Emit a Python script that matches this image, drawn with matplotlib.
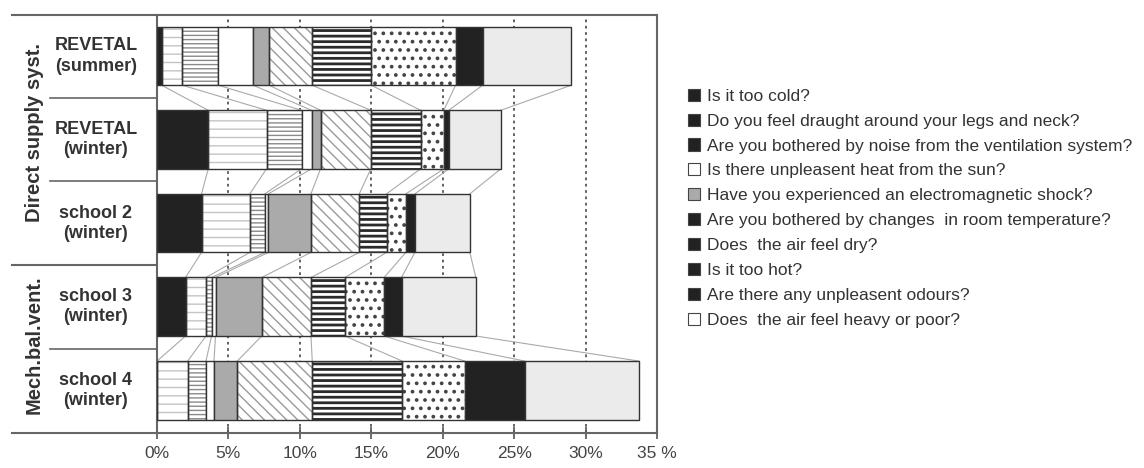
import matplotlib
matplotlib.use('Agg')
import matplotlib.pyplot as plt
from matplotlib.patches import Patch
import numpy as np

plt.rcParams['font.family'] = ['Liberation Sans', 'DejaVu Sans']
plt.rcParams['hatch.linewidth'] = 1.0

# locations (top to bottom)
locations = ["REVETAL\n(summer)", "REVETAL\n(winter)", "school 2\n(winter)",
             "school 3\n(winter)", "school 4\n(winter)"]
groups = ["Direct supply syst.", "Mech.bal.vent."]

questions = ["Is it too cold?",
             "Do you feel draught around your legs and neck?",
             "Are you bothered by noise from the ventilation system?",
             "Is there unpleasent heat from the sun?",
             "Have you experienced an electromagnetic shock?",
             "Are you bothered by changes  in room temperature?",
             "Does  the air feel dry?",
             "Is it too hot?",
             "Are there any unpleasent odours?",
             "Does  the air feel heavy or poor?"]

# % of answers per question, one value per location
too_cold = [0.33, 3.59, 3.12, 2.00, 0.00]
draught  = [1.44, 4.08, 3.38, 1.43, 2.15]
noise    = [2.52, 2.45, 1.05, 0.39, 1.28]
sun_heat = [2.44, 0.70, 0.25, 0.28, 0.56]
el_shock = [1.12, 0.63, 2.98, 3.23, 1.63]
temp_chg = [3.01, 3.52, 3.38, 3.45, 5.25]
dry_air  = [4.14, 3.48, 1.91, 2.38, 6.30]
too_hot  = [5.90, 1.63, 1.35, 2.74, 4.38]
odours   = [1.90, 0.35, 0.63, 1.22, 4.20]
heavy    = [6.20, 3.64, 3.85, 5.20, 8.00]

series = [too_cold, draught, noise, sun_heat, el_shock,
          temp_chg, dry_air, too_hot, odours, heavy]

# face colour, hatch, hatch colour, hatch width
styles = [("#222222", None, None, 0),
          ("white", "--", "#c4c4c4", 1.0),
          ("white", "----", "#8a8a8a", 1.0),
          ("white", None, None, 0),
          ("#aaaaaa", None, None, 0),
          ("white", "\\\\\\", "#9a9a9a", 1.0),
          ("white", "---", "#2a2a2a", 2.0),
          ("white", "..", "#444444", 1.5),
          ("#222222", None, None, 0),
          ("#ebebeb", None, None, 0)]
legend_face = ["#222222", "#222222", "#222222", "white", "#aaaaaa",
               "#222222", "#222222", "#222222", "#222222", "white"]

fig = plt.figure(figsize=(11.44, 4.68), dpi=100)
ax = fig.add_axes([0.1372, 0.0748, 0.4371, 0.8932])

y = np.arange(len(locations))
h = 0.70
left = np.zeros(len(locations))
cums = []
for vals, (fc, hatch, hc, hw) in zip(series, styles):
    vals = np.array(vals)
    if hatch:
        bars = ax.barh(y, vals, h, left=left, color=fc, hatch=hatch,
                       edgecolor=hc, linewidth=0, zorder=2)
        for b in bars:
            if hasattr(b, 'set_hatch_linewidth'):
                b.set_hatch_linewidth(hw)
        ax.barh(y, vals, h, left=left, fill=False, edgecolor="#333333",
                linewidth=1.0, zorder=3)
    else:
        ax.barh(y, vals, h, left=left, color=fc, edgecolor="#333333",
                linewidth=1.0, zorder=3)
    left = left + vals
    cums.append(left.copy())

# thin lines joining the segment borders of neighbouring bars
for c in cums:
    for i in range(len(locations) - 1):
        ax.plot([c[i], c[i + 1]], [i + h / 2, i + 1 - h / 2],
                color="#aaaaaa", lw=0.8, zorder=1)

ax.set_xlim(0, 35)
ax.set_ylim(4.51, -0.49)
ax.set_xticks(range(0, 36, 5))
ax.set_xticklabels(["0%", "5%", "10%", "15%", "20%", "25%", "30%", "35 %"])
ax.tick_params(axis='x', direction='inout', length=9, width=1.2,
               colors="#555555", labelcolor="#444444", labelsize=12.5, pad=5)
ax.set_yticks([])
for x in range(5, 35, 5):
    ax.axvline(x, color="#555555", ls=(0, (1.5, 2)), lw=1.3, zorder=0)
for s in ax.spines.values():
    s.set_color("#666666")
    s.set_linewidth(1.5)

# left label area
trans = ax.get_yaxis_transform()
for yy in [-0.49, 2.5, 4.51]:
    ax.plot([-0.29, 0], [yy, yy], transform=trans, color="#666666",
            lw=1.5, clip_on=False)
for yy in [0.5, 1.5, 3.5]:
    ax.plot([-0.214, 0], [yy, yy], transform=trans, color="#666666",
            lw=1.2, clip_on=False)
for i, lab in enumerate(locations):
    ax.text(-0.122, i, lab, transform=trans, ha='center', va='center',
            fontsize=13, fontweight='bold', color="#333333",
            linespacing=1.25)
ax.text(-0.245, 0.92, groups[0], transform=trans, rotation=90, ha='center',
        va='center', fontsize=14.5, fontweight='bold', color="#333333")
ax.text(-0.245, 3.45, groups[1], transform=trans, rotation=90, ha='center',
        va='center', fontsize=14.5, fontweight='bold', color="#333333")

handles = [Patch(facecolor=f, edgecolor="#444444", linewidth=0.8)
           for f in legend_face]
fig.legend(handles, questions, loc='upper left',
           bbox_to_anchor=(0.594, 0.829), frameon=False, fontsize=12.5,
           handlelength=0.7, handleheight=0.7, handletextpad=0.4,
           labelspacing=0.56, borderpad=0, labelcolor="#333333")

plt.savefig('out.png', dpi=100)
plt.close()
